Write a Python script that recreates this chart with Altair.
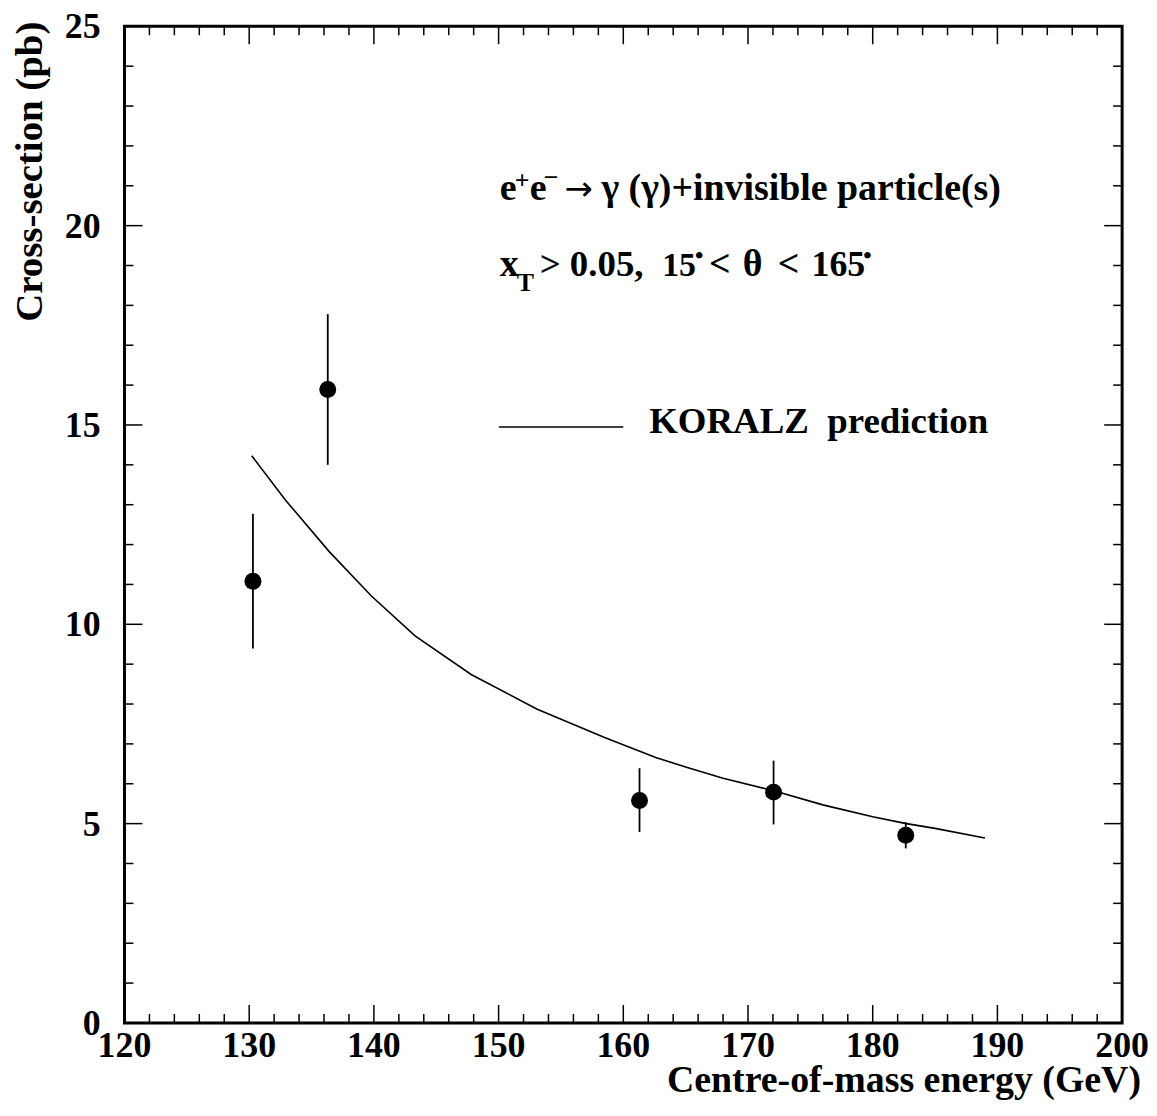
import altair as alt
import pandas as pd

# ---- data ----
energy = [130.3, 136.3, 161.3, 172.05, 182.65]
xsec = [11.08, 15.89, 5.58, 5.79, 4.71]
err_lo = [9.39, 14.0, 4.79, 4.98, 4.38]
err_hi = [12.77, 17.78, 6.39, 6.58, 5.04]

koralz_e = [130.2, 132.9, 136.4, 139.8, 143.3, 147.8, 153.1, 158.5, 162.6, 165.0,
            168.0, 172.0, 176.0, 180.0, 182.7, 185.0, 189.0]
koralz_xs = [14.23, 13.12, 11.83, 10.71, 9.71, 8.74, 7.87, 7.16, 6.66, 6.42,
             6.14, 5.83, 5.47, 5.17, 5.00, 4.88, 4.64]

x_major = [120, 130, 140, 150, 160, 170, 180, 190, 200]
x_minor = [v for v in range(120, 201, 2) if v % 10 != 0]
y_major = [0, 5, 10, 15, 20, 25]
y_minor = [v for v in range(0, 26) if v % 5 != 0]

x_title = "Centre-of-mass energy (GeV)"
y_title = "Cross-section (pb)"

W, H = 1002, 1001
FONT = "Liberation Serif"

xs = alt.Scale(domain=[120, 200], nice=False, zero=False)
ys = alt.Scale(domain=[0, 25], nice=False, zero=False)

pts = pd.DataFrame({"e": energy, "xs": xsec, "lo": err_lo, "hi": err_hi})
cur = pd.DataFrame({"e": koralz_e, "xs": koralz_xs})

curve = alt.Chart(cur).mark_line(color="black", strokeWidth=1.6).encode(
    x=alt.X("e:Q", scale=xs, axis=None),
    y=alt.Y("xs:Q", scale=ys, axis=None),
    order="e:Q",
)

errbars = alt.Chart(pts).mark_rule(color="black", strokeWidth=1.8).encode(
    x=alt.X("e:Q", scale=xs, axis=None),
    y=alt.Y("lo:Q", scale=ys, axis=None),
    y2="hi:Q",
)

dots = alt.Chart(pts).mark_point(filled=True, shape="circle", size=290,
                                  color="black", opacity=1).encode(
    x=alt.X("e:Q", scale=xs, axis=None),
    y=alt.Y("xs:Q", scale=ys, axis=None),
)

def xticks(vals, length, top):
    d = pd.DataFrame({"v": vals})
    if top:
        yy, yy2 = alt.value(0), alt.value(length)
    else:
        yy, yy2 = alt.value(H), alt.value(H - length)
    return alt.Chart(d).mark_rule(color="black", strokeWidth=1.5).encode(
        x=alt.X("v:Q", scale=xs, axis=None), y=yy, y2=yy2)

def yticks(vals, length, right):
    d = pd.DataFrame({"v": vals})
    if right:
        xx, xx2 = alt.value(W), alt.value(W - length)
    else:
        xx, xx2 = alt.value(0), alt.value(length)
    return alt.Chart(d).mark_rule(color="black", strokeWidth=1.5).encode(
        y=alt.Y("v:Q", scale=ys, axis=None), x=xx, x2=xx2)

tick_layers = [
    xticks(x_major, 18, False), xticks(x_major, 18, True),
    xticks(x_minor, 9, False), xticks(x_minor, 9, True),
    yticks(y_major, 18, False), yticks(y_major, 18, True),
    yticks(y_minor, 9, False), yticks(y_minor, 9, True),
]

# tick labels (drawn through the scales)
xlab = alt.Chart(pd.DataFrame({"v": x_major})).mark_text(
    font=FONT, fontWeight="bold", fontSize=36, color="black",
    align="center", baseline="alphabetic").encode(
    x=alt.X("v:Q", scale=xs, axis=None), y=alt.value(H + 34), text=alt.Text("v:Q"))

ylab = alt.Chart(pd.DataFrame({"v": y_major})).mark_text(
    font=FONT, fontWeight="bold", fontSize=36, color="black",
    align="right", baseline="alphabetic", dy=12).encode(
    y=alt.Y("v:Q", scale=ys, axis=None), x=alt.value(-24), text=alt.Text("v:Q"))

# ---- text pieces ----
ann_df = pd.DataFrame({"k": [0]})

def txt(s, x, y, size=38, weight="bold", align="left", angle=0, font=FONT):
    return alt.Chart(ann_df).mark_text(
        text=s, font=font, fontWeight=weight, fontSize=size, color="black",
        align=align, baseline="alphabetic", angle=angle).encode(
        x=alt.value(x), y=alt.value(y))

annotations = [
    txt(x_title, 1021, 1070, 38, align="right"),
    txt(y_title, -83, 146, 39, align="center", angle=270),
    txt("e", 377, 174),
    txt("+", 392, 163, 26),
    txt("e", 407, 174),
    txt("\u2212", 421, 160, 26),
    txt("\u2192", 442, 174, 34, weight="normal", font="DejaVu Sans"),
    txt("\u03b3 (\u03b3)+invisible particle(s)", 479, 174),
    txt("x", 377, 251, 38),
    txt("T", 394, 266, 26),
    txt("> 0.05,", 417, 251, 37),
    txt("15", 540, 251, 34),
    txt("\u2022", 573, 238, 24),
    txt("<", 587, 251, 38),
    txt("\u03b8", 621, 251, 38),
    txt("<", 656, 251, 38),
    txt("165", 690, 251, 36),
    txt("\u2022", 742, 238, 24),
    txt("KORALZ\u00a0\u00a0prediction", 527, 408, 37),
]

legend_line = alt.Chart(ann_df).mark_rule(color="black", strokeWidth=1.6).encode(
    x=alt.value(376), x2=alt.value(501), y=alt.value(402.5))

chart = alt.layer(curve, errbars, dots, *tick_layers, xlab, ylab,
                  *annotations, legend_line).properties(
    width=W, height=H,
    autosize=alt.AutoSizeParams(type="none"),
    padding={"left": 117, "top": 16, "right": 27, "bottom": 77},
    background="white",
).configure_view(stroke="black", strokeWidth=3)

chart.save("out.html", embed_options={"renderer": "svg", "actions": False})
